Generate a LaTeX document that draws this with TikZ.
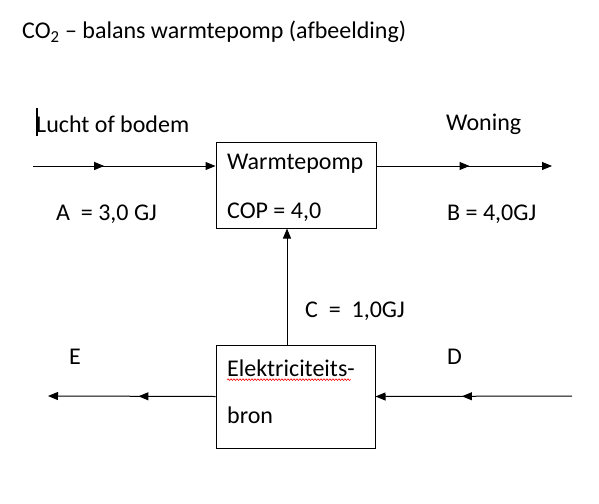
\documentclass[tikz,border=0pt]{standalone}
\usepackage{fontspec}
\setmainfont{Carlito}[Ligatures=NoCommon]
\usetikzlibrary{arrows.meta, decorations.markings, decorations.pathmorphing}

\begin{document}
\begin{tikzpicture}[x=1pt, y=-1pt,
    every node/.style={font=\fontsize{24}{28}\selectfont, inner sep=0pt},
    lbl/.style={anchor=west},
    box/.style={draw, line width=1pt},
    tip/.style={-{Triangle[length=10pt, width=8pt]}},
    flow/.style={line width=1pt, tip, postaction={decorate},
      decoration={markings, mark=at position #1 with {\arrow{Triangle[length=10pt, width=8pt]}}}}]
    \useasboundingbox (0,0) rectangle (599,503);

    \node[lbl] (title) at (22,32) {CO\textsubscript{2} \textendash{} balans warmtepomp (afbeelding)};

    % boxes
    \node[box, minimum width=160pt, minimum height=86pt] (wp) at (296,185) {};
    \node[box, minimum width=159pt, minimum height=103pt] (eb) at (295.5,396.5) {};
    \node[lbl] (wptxt) at (227,164) {Warmtepomp};
    \node[lbl] (cop) at (227,212) {COP = 4,0};
    \node[lbl] (ebtxt) at (227,368) {Elektriciteits-};
    \node[lbl] (bron) at (227,415) {bron};
    \draw[red, line width=0.6pt, decorate,
      decoration={snake, amplitude=0.8pt, segment length=3pt}]
      ([yshift=-3pt]ebtxt.south west) -- ([yshift=-3pt, xshift=-4pt]ebtxt.south east);

    % labels
    \node[lbl] (lucht) at (36,124) {Lucht of bodem};
    \draw[line width=2pt] (37,108) -- (37,136);
    \node[lbl] (woning) at (446,124) {Woning};
    \node[lbl] (a) at (56,214) {A\ \ = 3,0 GJ};
    \node[lbl] (b) at (447,214) {B = 4,0GJ};
    \node[lbl] (c) at (305,311) {C\ \ =\ \ 1,0GJ};
    \node[lbl] (e) at (69,357) {E};
    \node[lbl] (d) at (447,357) {D};

    % connectors
    \coordinate (lin) at (33,166);
    \coordinate (wout) at (552,166);
    \coordinate (eout) at (48,396);
    \coordinate (din) at (572,396);
    \draw[flow=0.39] (lin) -- (lin -| wp.west);
    \draw[flow=0.53] (wout -| wp.east) -- (wout);
    \draw[line width=1pt, tip] ([xshift=-8.5pt]eb.north) -- ([xshift=-9pt]wp.south);
    \draw[flow=0.46] (eb.west) -- (eout);
    \draw[flow=0.56] (din) -- (eb.east);
  \end{tikzpicture}
\end{document}
